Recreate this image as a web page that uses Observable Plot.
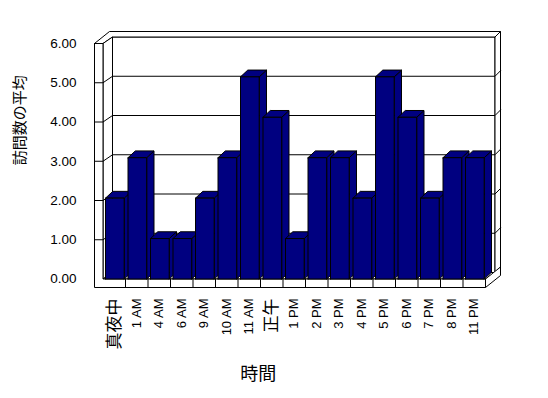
<!DOCTYPE html>
<html><head><meta charset="utf-8">
<script src="https://cdn.jsdelivr.net/npm/d3@7"></script>
<script src="https://cdn.jsdelivr.net/npm/@observablehq/plot@0.6"></script>
<style>body{margin:0;background:#fff}</style>
</head><body><div id="chart"></div>
<script>
// ---- data ----
const categories = ["真夜中","1 AM","4 AM","6 AM","9 AM","10 AM","11 AM","正午","1 PM","2 PM","3 PM","4 PM","5 PM","6 PM","7 PM","8 PM","11 PM"];
const values = [2,3,1,1,2,3,5,4,1,3,3,2,5,4,2,3,3];
const yTicks = [0,1,2,3,4,5,6];
const yTickLabels = ["0.00","1.00","2.00","3.00","4.00","5.00","6.00"];
const xTitle = "時間";
const yTitle = "訪問数の平均";

// ---- layout (pixels) ----
const W = 548, H = 398;
const X0 = 102.5, X1 = 485, Y0 = 278.5, YTOP = 43;
const n = categories.length;
const yMax = 6;
const pxX = (X1 - X0) / n;
const pxY = (Y0 - YTOP) / yMax;
const ux = px => px / pxX;
const uy = px => -px / pxY;
const WALL = {dx: 9.5, dy: -6.5};
const OUT = {dx: 15, dy: -12};
const BAR = {dx: 7.3, dy: -6.8};
const PERSP = 1.03;  // bars sit nearer the viewer, drawn slightly taller
const T = ux(8.5);   // left wall thickness
const F = -uy(8.5);  // floor thickness (value units)
const padL = ux(2.5), barW = ux(18.7);
const off = (p, d) => [p[0] + ux(d.dx), p[1] + uy(d.dy)];

function poly(id, pts) {
  const rows = pts.map(p => ({id, x: p[0], y: p[1]}));
  rows.push({id, x: pts[0][0], y: pts[0][1]});
  return rows;
}

// structure faces
const faces = [];
faces.push(...poly("back", [off([0,0],WALL), off([n,0],WALL), off([n,yMax],WALL), off([0,yMax],WALL)]));
faces.push(...poly("backSide", [off([n,yMax],WALL), off([n,yMax],OUT), off([n,0],OUT), off([n,0],WALL)]));
faces.push(...poly("rim", [[-T,yMax],[0,yMax], off([0,yMax],WALL), off([n,yMax],WALL), off([n,yMax],OUT), off([-T,yMax],OUT)]));
faces.push(...poly("leftInner", [[0,0],[0,yMax], off([0,yMax],WALL), off([0,0],WALL)]));
faces.push(...poly("floorTop", [[0,0],[n,0], off([n,0],WALL), off([0,0],WALL)]));
faces.push(...poly("floorSide", [[n,0], off([n,0],OUT), off([n,-F],OUT), [n,-F]]));
faces.push(...poly("front", [[-T,yMax],[0,yMax],[0,0],[n,0],[n,-F],[-T,-F]]));

// gridlines wrapping around the walls
const grid = [];
yTicks.filter(v => v > 0 && v < yMax).forEach(v => {
  [[-T,v],[0,v], off([0,v],WALL), off([n,v],WALL), off([n,v],OUT)]
    .forEach(p => grid.push({id: "g" + v, x: p[0], y: p[1]}));
});

// category dividers on the floor front
const dividers = d3.range(1, n).map(i => ({x: i}));

// bars (side, top, front for each, left to right)
const bars = [];
values.forEach((val, i) => {
  const v = val * PERSP;
  const xl = i + padL, xr = i + padL + barW;
  bars.push(...poly("s" + i, [[xr,0],[xr,v], off([xr,v],BAR), off([xr,0],BAR)]));
  bars.push(...poly("t" + i, [[xl,v],[xr,v], off([xr,v],BAR), off([xl,v],BAR)]));
  bars.push(...poly("f" + i, [[xl,0],[xr,0],[xr,v],[xl,v]]));
});

const font = "'Liberation Sans', 'Noto Sans CJK JP', sans-serif";
const isCJK = s => /[^\x00-\x7F]/.test(s);

const chart = Plot.plot({
  width: W, height: H,
  marginLeft: X0, marginRight: W - X1, marginTop: YTOP, marginBottom: H - Y0,
  x: {type: "linear", domain: [0, n], axis: null},
  y: {type: "linear", domain: [0, yMax], axis: null},
  style: {fontFamily: font, fontSize: "13px", background: "#fff", color: "#000"},
  marks: [
    Plot.line(faces, {x: "x", y: "y", z: "id", fill: "#fff", stroke: "#000", strokeWidth: 1, strokeLinejoin: "miter"}),
    Plot.line(grid, {x: "x", y: "y", z: "id", stroke: "#000", strokeWidth: 1}),
    Plot.ruleX(dividers, {x: "x", y1: 0, y2: -F, stroke: "#000", strokeWidth: 1}),
    Plot.line(bars, {x: "x", y: "y", z: "id", fill: "#000080", stroke: "#000", strokeWidth: 1, strokeLinejoin: "miter"}),
    Plot.text(yTicks, {x: -T, y: d => d, text: (d, i) => yTickLabels[i], textAnchor: "end", dx: -18, fontSize: 13.5}),
    Plot.text(categories, {x: (d, i) => i + 0.5, y: -F, text: d => d, rotate: -90, textAnchor: "end", dy: 11,
      fontSize: d => isCJK(d) ? 17 : 13}),
    Plot.text([yTitle], {frameAnchor: "left", text: d => d, rotate: -90, dx: -82.5, dy: 4, fontSize: 15}),
    Plot.text([xTitle], {frameAnchor: "bottom", text: d => d, dx: -36, dy: 101, fontSize: 18})
  ]
});
document.getElementById("chart").appendChild(chart);
</script>
</body></html>
